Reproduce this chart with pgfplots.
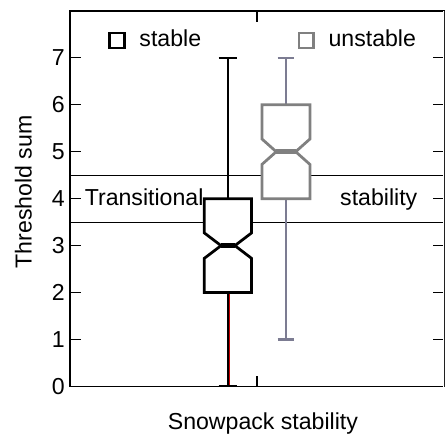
\documentclass[border=0pt]{standalone}
\usepackage{fontspec}
\setmainfont{Liberation Sans}
\usepackage{pgfplots}
\pgfplotsset{compat=1.18}
\definecolor{boxgray}{RGB}{128,128,128}
\definecolor{whiskgray}{RGB}{124,124,146}
\begin{document}
\begin{tikzpicture}
\begin{axis}[
    name=ax,
    width=380.5pt, height=382pt, scale only axis,
    xmin=0, xmax=2, ymin=0, ymax=8,
    xtick={1}, xticklabels={},
    ytick={0,1,2,3,4,5,6,7,8},
    yticklabels={0,1,2,3,4,5,6,7,{}},
    tick align=inside, major tick length=11pt,
    tick style={line width=1.3pt, black},
    axis line style={line width=1.6pt},
    font=\fontsize{23.5}{28}\selectfont,
    /pgf/number format/assume math mode=true,
    yticklabel style={inner sep=0pt, xshift=-5pt},
    xlabel={Snowpack stability},
    xlabel style={at={(axis description cs:0.516,0)}, anchor=base, yshift=-44pt},
    ylabel={Threshold sum},
    ylabel style={at={(axis description cs:-0.102,0.518)}, anchor=base},
    legend columns=2,
    legend style={draw=none, fill=none, inner sep=0pt, at={(axis cs:0.205,7.16)}, anchor=south west,
        /tikz/column 1/.style={column sep=12pt},
        /tikz/column 2/.style={column sep=96pt},
        /tikz/column 3/.style={column sep=12pt}},
    legend image code/.code={\draw[#1, line width=2.6pt, fill=white] (0pt,-9pt) rectangle (15pt,6pt);},
]
% transitional band
\addplot[black, line width=0.9pt, forget plot] coordinates {(0,3.5) (2,3.5)};
\addplot[black, line width=0.9pt, forget plot] coordinates {(0,4.5) (2,4.5)};

% stable: whiskers 0-7, box 2-4, median 3
\addplot[black, line width=2.6pt, forget plot] coordinates {(0.845,4) (0.845,7)};
\addplot[black, line width=2.6pt, forget plot] coordinates {(0.845,0) (0.845,2)};
\addplot[red!80!black, line width=0.8pt, forget plot] coordinates {(0.853,0) (0.853,2)};
\addplot[black, line width=2.4pt, forget plot] coordinates {(0.795,7) (0.895,7)};
\addplot[black, line width=2.4pt, forget plot] coordinates {(0.795,0) (0.895,0)};
\addplot[black, line width=2.8pt, fill=white, forget plot] coordinates {
    (0.719,2) (0.719,2.73) (0.808,3) (0.719,3.27) (0.719,4)
    (0.971,4) (0.971,3.27) (0.882,3) (0.971,2.73) (0.971,2)} -- cycle;
\addplot[black, line width=4.5pt, forget plot] coordinates {(0.808,3) (0.882,3)};

% unstable: whiskers 1-7, box 4-6, median 5
\addplot[whiskgray, line width=2pt, forget plot] coordinates {(1.155,6) (1.155,7)};
\addplot[whiskgray, line width=2pt, forget plot] coordinates {(1.155,1) (1.155,4)};
\addplot[whiskgray, line width=2.4pt, forget plot] coordinates {(1.11,7) (1.2,7)};
\addplot[whiskgray, line width=2.4pt, forget plot] coordinates {(1.11,1) (1.2,1)};
\addplot[boxgray, line width=2.8pt, fill=white, forget plot] coordinates {
    (1.027,4) (1.027,4.73) (1.103,5) (1.027,5.27) (1.027,6)
    (1.283,6) (1.283,5.27) (1.207,5) (1.283,4.73) (1.283,4)} -- cycle;
\addplot[boxgray, line width=4.5pt, forget plot] coordinates {(1.103,5) (1.207,5)};

\addlegendimage{black}
\addlegendentry{stable}
\addlegendimage{boxgray}
\addlegendentry{unstable}

\node[anchor=base west, inner sep=0pt] at (axis cs:0.079,3.85) {Transitional};
\node[anchor=base west, inner sep=0pt] at (axis cs:1.444,3.85) {stability};
% right spine lies outside the reference crop: hide it
\draw[white, line width=2pt] (rel axis cs:1,0) -- (rel axis cs:1,1);
\end{axis}
\path ([xshift=-71pt,yshift=-57pt]ax.south west) ([xshift=4pt,yshift=11pt]ax.north east);
\end{tikzpicture}
\end{document}
